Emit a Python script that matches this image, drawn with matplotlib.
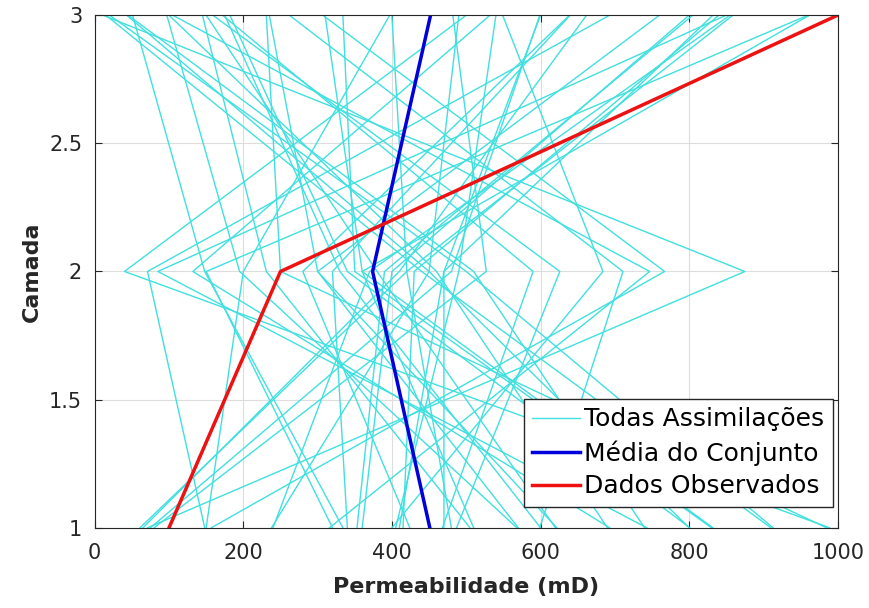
import numpy as np
import matplotlib.pyplot as plt
from matplotlib.ticker import FormatStrFormatter

plt.rcParams['font.family'] = ['DejaVu Sans']

camadas = [1, 2, 3]

# permeabilidade de cada membro do conjunto nas camadas 1, 2 e 3
k_camada1 = [61, 989, 71, 832, 148, 913, 157, 743, 238, 693, 316, 622, 334, 599, 353,
             568, 400, 505, 410, 487, 424, 468, 80, 801, 65, 985, 75, 830, 150, 910,
             240, 740, 320, 690, 340, 620, 360, 600, 405, 570, 415, 510, 470, 480, 800]
k_camada2 = [420, 40, 875, 360, 71, 500, 767, 85, 450, 132, 747, 300, 148, 711, 390,
             195, 684, 231, 470, 626, 280, 590, 527, 340, 410, 250, 480, 350, 200, 440,
             370, 510, 150, 460, 320, 380, 400, 330, 490, 300, 430, 360, 470, 420, 450]
k_camada3 = [859, 500, 11, 962, 693, 20, 307, 850, 43, 532, 105, 760, 51, 262, 805,
             97, 549, 145, 832, 159, 639, 172, 482, 182, 662, 231, 599, 334, 397, 15,
             855, 45, 960, 100, 640, 150, 800, 175, 540, 235, 840, 310, 600, 400, 490]

media = [451, 374, 452]
observado = [100, 250, 1000]

fig = plt.figure(figsize=(8.69, 6.08), dpi=100)
ax = fig.add_axes([0.109, 0.132, 0.855, 0.843])

ens = np.array([k_camada1, k_camada2, k_camada3])
for i in range(ens.shape[1]):
    ax.plot(ens[:, i], camadas, color='#40e0e0', lw=1.0,
            label='Todas Assimilações' if i == 0 else None)
ax.plot(media, camadas, color='#0000dd', lw=2.5, label='Média do Conjunto')
ax.plot(observado, camadas, color='#ee1111', lw=2.5, label='Dados Observados')

ax.set_xlim(0, 1000)
ax.set_ylim(1, 3)
ax.set_xticks([0, 200, 400, 600, 800, 1000])
ax.set_yticks([1, 1.5, 2, 2.5, 3])
ax.yaxis.set_major_formatter(FormatStrFormatter('%g'))
ax.grid(True, color='#dddddd', lw=0.8)
ax.set_axisbelow(True)
ax.tick_params(direction='in', top=True, right=True, labelsize=15,
               colors='#262626', length=5)
ax.tick_params(axis='x', pad=11)
ax.tick_params(axis='y', pad=9)
for s in ax.spines.values():
    s.set_color('#262626')
ax.set_xlabel('Permeabilidade (mD)', fontsize=16, fontweight='bold', color='#262626',
              labelpad=10)
ax.set_ylabel('Camada', fontsize=16, fontweight='bold', color='#262626', labelpad=5)

leg = ax.legend(loc='lower right', bbox_to_anchor=(0.993, 0.04), fontsize=18,
                fancybox=False, framealpha=1, edgecolor='#262626',
                handlelength=1.9, handletextpad=0.15, borderpad=0.35,
                labelspacing=0.35, borderaxespad=0)
leg.get_frame().set_linewidth(1)

fig.savefig('out.png', dpi=100)
